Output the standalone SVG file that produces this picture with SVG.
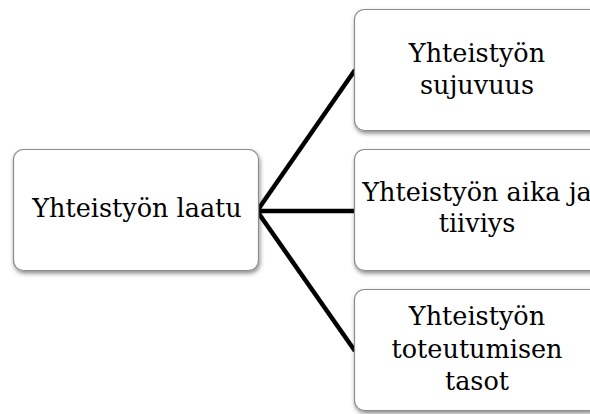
<svg xmlns="http://www.w3.org/2000/svg" width="590" height="414" viewBox="0 0 590 414">
<style>
.box{fill:#ffffff;stroke:#8c8c8c;stroke-width:1.2;filter:url(#sh)}
.t{font-family:"DejaVu Serif","Liberation Serif",serif;font-size:25.5px;fill:#000;text-anchor:middle}
.c{stroke:#000;stroke-width:4.5;fill:none;stroke-linecap:butt}
</style>
<defs>
<filter id="sh" x="-10%" y="-10%" width="120%" height="130%">
<feDropShadow dx="1" dy="2.5" stdDeviation="2" flood-color="#000" flood-opacity="0.45"/>
</filter>
</defs>
<rect width="590" height="414" fill="#fff"/>
<g id="connectors">
<path class="c" d="M257,211 L355,70"/>
<path class="c" d="M257,211 L355,211"/>
<path class="c" d="M257,211 L355,351"/>
</g>
<g id="root">
<rect class="box" x="13.5" y="149.5" width="245" height="121" rx="10"/>
<text class="t" x="137" y="217">Yhteistyön laatu</text>
</g>
<g id="n1">
<rect class="box" x="354.5" y="9.5" width="245" height="121" rx="10"/>
<text class="t" x="477" y="62">Yhteistyön</text>
<text class="t" x="477" y="94">sujuvuus</text>
</g>
<g id="n2">
<rect class="box" x="354.5" y="149.5" width="245" height="121" rx="10"/>
<text class="t" x="477" y="201">Yhteistyön aika ja</text>
<text class="t" x="477" y="232">tiiviys</text>
</g>
<g id="n3">
<rect class="box" x="354.5" y="289.5" width="245" height="121" rx="10"/>
<text class="t" x="477" y="325">Yhteistyön</text>
<text class="t" x="477" y="358">toteutumisen</text>
<text class="t" x="477" y="390">tasot</text>
</g>
</svg>
